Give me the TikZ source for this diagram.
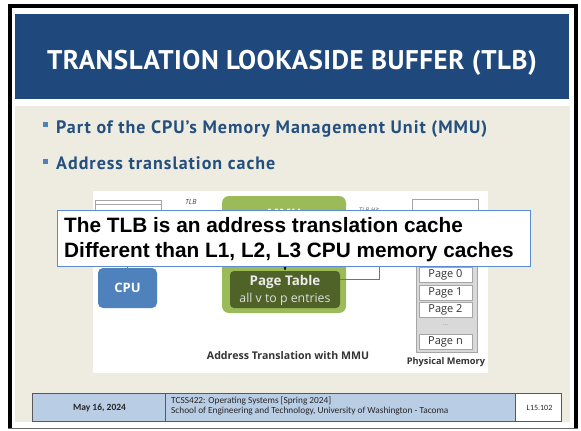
\documentclass[tikz,border=0pt]{standalone}
\usepackage{fontspec}
\usetikzlibrary{arrows.meta}
\setmainfont{Liberation Sans}
\newfontfamily\titlefont[LetterSpace=2]{PT Sans}
\newfontfamily\bulletfont[LetterSpace=5.5]{PT Sans}
\newfontfamily\diagfont{Open Sans}
\newfontfamily\footfont{Carlito}
\definecolor{titleblue}{HTML}{1F497D}
\definecolor{pagebg}{HTML}{EEECE1}
\definecolor{bulletsq}{HTML}{4F81BD}
\definecolor{bullettext}{HTML}{24507F}
\definecolor{mmugreen}{HTML}{9BBB59}
\definecolor{ptgreen}{HTML}{4F6228}
\definecolor{cpublue}{HTML}{4F81BD}
\definecolor{calloutline}{HTML}{5B8BD0}
\definecolor{footblue}{HTML}{B9CDE5}
\definecolor{footline}{HTML}{595959}
\definecolor{boxgray}{HTML}{A6A6A6}
\begin{document}
\begin{tikzpicture}[x=1pt,y=-1pt,
  bullettxt/.style={anchor=base west,inner sep=0pt,text=bullettext,font=\bulletfont\bfseries\fontsize{18}{20}\selectfont},
  pagebox/.style={draw=boxgray,fill=white,line width=0.8pt,minimum width=53pt,minimum height=15pt,inner sep=0pt,font=\diagfont\fontsize{11}{12}\selectfont,text=black!80},
  footbox/.style={draw=footline,line width=1pt},
  foottxt/.style={font=\footfont\fontsize{9.3}{10}\selectfont,text=black!85}]
\useasboundingbox (0,0) rectangle (581,431);
\fill[white] (0,0) rectangle (581,431);
% outer frame
\fill[black] (8,4) rectangle (578,8);
\fill[black] (8,4) rectangle (11.5,429);
\fill[black] (574,4) rectangle (578,429);
\fill[black!60] (8,427.5) rectangle (578,429);
% title bar
\fill[titleblue] (15,14) rectangle (569,99);
\node[text=white,font=\titlefont\bfseries\fontsize{27}{28}\selectfont] (title) at (292,63) {TRANSLATION LOOKASIDE BUFFER (TLB)};
% content area
\fill[pagebg] (15,106) rectangle (570,422);
% bullets
\fill[bulletsq] (43,122) rectangle (48,127);
\node[bullettxt] (b1) at (56,133) {Part of the CPU’s Memory Management Unit (MMU)};
\fill[bulletsq] (43,159) rectangle (48,164);
\node[bullettxt] (b2) at (56,169) {Address translation cache};
% diagram panel
\fill[white] (93,191) rectangle (488,373);
% TLB box (upper left)
\draw[boxgray,line width=0.8pt] (95,200) rectangle (161,245);
\draw[boxgray,line width=0.6pt] (95,204) -- (161,204);
\node[font=\diagfont\itshape\fontsize{7}{8}\selectfont,text=black!75] (tlblbl) at (191,202) {TLB};
% MMU
\node[fill=mmugreen,rounded corners=7pt,minimum width=124pt,minimum height=117pt,inner sep=0pt] (mmu) at (284,254.5) {};
\node[text=white,font=\diagfont\bfseries\fontsize{13}{14}\selectfont] (mmulbl) at (284,214) {MMU};
\node[font=\diagfont\itshape\fontsize{6.5}{7}\selectfont,text=black!60] (hitlbl) at (369,210) {TLB Hit};
% page table
\node[fill=ptgreen,rounded corners=4pt,minimum width=110pt,minimum height=37pt,inner sep=0pt] (pt) at (285,289.5) {};
\node[text=black!8,font=\diagfont\bfseries\fontsize{13.4}{14}\selectfont] (ptl1) at (285,282) {Page Table};
\node[text=black!12,font=\diagfont\fontsize{12.3}{13}\selectfont] (ptl2) at (285,299) {all v to p entries};
\coordinate (arrtop) at (285,250);
\draw[black,line width=0.5pt,-{Latex[length=3.5pt,width=3pt]}] (arrtop) -- (pt.north);
\coordinate (ptcorner) at (379,279);
\coordinate (ptup) at (379,248);
\draw[black!55,line width=0.6pt] (pt.east |- ptcorner) -- (ptcorner) -- (ptup);
% CPU
\node[fill=cpublue,rounded corners=5pt,minimum width=59pt,minimum height=40pt,inner sep=0pt,text=white,font=\diagfont\bfseries\fontsize{13}{14}\selectfont] (cpu) at (127.5,288) {CPU};
\coordinate (cpuup) at (128,245);
\draw[black!55,line width=0.6pt] (cpu.north) -- (cpuup);
% disk box (upper right)
\draw[boxgray,line width=0.8pt] (412,199) rectangle (478,232);
% physical memory
\draw[boxgray,fill=black!15,line width=0.8pt] (416,238) rectangle (477,352);
\node[pagebox] (p0) at (445.5,275) {Page 0};
\node[pagebox] (p1) at (445.5,292.5) {Page 1};
\node[pagebox] (p2) at (445.5,310) {Page 2};
\node[font=\diagfont\fontsize{6}{7}\selectfont,text=black!50] (dots) at (445.5,325) {...};
\node[pagebox] (pn) at (445.5,341.5) {Page n};
\node[font=\diagfont\bfseries\fontsize{9.2}{10}\selectfont,text=black!80] (pmlbl) at (446,362) {Physical Memory};
\node[font=\diagfont\bfseries\fontsize{10.6}{11}\selectfont,text=black!80] (caption) at (288,356) {Address Translation with MMU};
% callout
\fill[white] (57,210) rectangle (530,266);
\draw[calloutline,line width=0.8pt] (57,210) rectangle (530,266);
\node[anchor=base west,inner sep=0pt,font=\bfseries\fontsize{20.8}{22}\selectfont] (c1) at (64,232) {The TLB is an address translation cache};
\node[anchor=base west,inner sep=0pt,font=\bfseries\fontsize{20.8}{22}\selectfont] (c2) at (64,257) {Different than L1, L2, L3 CPU memory caches};
% footer
\fill[footblue] (32,393) rectangle (515,421);
\fill[white] (515,393) rectangle (561,421);
\draw[footbox] (32,393) rectangle (165,421);
\draw[footbox] (165,393) rectangle (515,421);
\draw[footbox] (515,393) rectangle (561,421);
\node[foottxt,font=\footfont\bfseries\fontsize{9.5}{10}\selectfont] (date) at (99.5,407.5) {May 16, 2024};
\node[foottxt,anchor=base west,inner sep=0pt] (f1) at (171,403.5) {TCSS422: Operating Systems [Spring 2024]};
\node[foottxt,anchor=base west,inner sep=0pt] (f2) at (171,413.8) {School of Engineering and Technology, University of Washington - Tacoma};
\node[foottxt,font=\footfont\fontsize{8}{9}\selectfont] (slide) at (539.5,407.5) {L15.102};
\end{tikzpicture}
\end{document}
